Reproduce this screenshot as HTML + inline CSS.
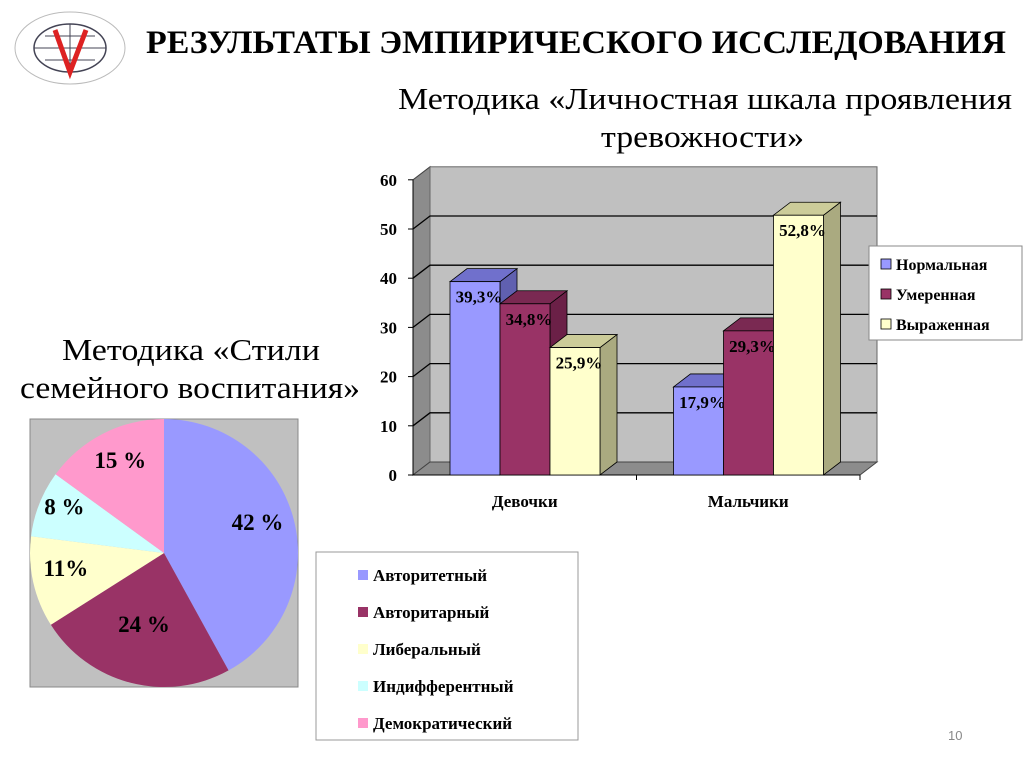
<!DOCTYPE html>
<html><head><meta charset="utf-8">
<style>
body{margin:0;width:1024px;height:767px;background:#fff;overflow:hidden;font-family:"Liberation Serif",serif;}
svg{position:absolute;left:0;top:0;font-family:"Liberation Serif",serif}
text{font-family:"Liberation Serif",serif}
</style></head>
<body>
<svg id="s" width="1024" height="767" font-family="Liberation Serif, serif">
<g>
<ellipse cx="70" cy="48" rx="55" ry="36" fill="none" stroke="#bbb" stroke-width="1"/>
<ellipse cx="70" cy="48" rx="36" ry="24" fill="none" stroke="#445" stroke-width="1.5"/>
<path d="M34 48 H106 M70 24 V72 M45 36 H95 M45 60 H95" stroke="#445" stroke-width="1"/>
<path d="M55 30 L70 72 L86 30" fill="none" stroke="#d22" stroke-width="5"/>
</g>
<text x="146" y="53" font-size="33" font-weight="bold" textLength="860" lengthAdjust="spacingAndGlyphs">РЕЗУЛЬТАТЫ ЭМПИРИЧЕСКОГО ИССЛЕДОВАНИЯ</text>
<text x="398" y="109" font-size="31" textLength="614" lengthAdjust="spacingAndGlyphs">Методика «Личностная шкала проявления</text>
<text x="601" y="147" font-size="31" textLength="203" lengthAdjust="spacingAndGlyphs">тревожности»</text>
<text x="62" y="360" font-size="31" textLength="258" lengthAdjust="spacingAndGlyphs">Методика «Стили</text>
<text x="20" y="398" font-size="31" textLength="340" lengthAdjust="spacingAndGlyphs">семейного воспитания»</text>
<g id="bar"></g>
<g id="pie"></g>
<text x="948" y="740" font-size="13" fill="#888" style="font-family:'Liberation Sans',sans-serif">10</text>
</svg>
<script>
const categories=["Девочки","Мальчики"];
const seriesNames=["Нормальная","Умеренная","Выраженная"];
const normal=[39.3,17.9];
const moderate=[34.8,29.3];
const severe=[25.9,52.8];
const valueLabels=[["39,3%","17,9%"],["34,8%","29,3%"],["25,9%","52,8%"]];
const yTicks=[0,10,20,30,40,50,60];
const pieNames=["Авторитетный","Авторитарный","Либеральный","Индифферентный","Демократический"];
const pieValues=[42,24,11,8,15];
const pieLabels=["42 %","24 %","11%","8 %","15 %"];

const NS="http://www.w3.org/2000/svg";
function mk(p,t,a){const e=document.createElementNS(NS,t);for(const k in a)e.setAttribute(k,a[k]);p.appendChild(e);return e;}
const bar=document.getElementById('bar');
const X0=413,Y0=475,PX=4.92,DX=17,DY=13,XR=860;
const y=v=>Y0-v*PX;
let w=mk(bar,'polygon',{points:`${X0},${y(60)} ${X0+DX},${y(60)-DY} ${X0+DX},${Y0-DY} ${X0},${Y0}`,fill:'#8c8c8c',stroke:'#444'});

w=mk(bar,'rect',{x:X0+DX,y:y(60)-DY,width:XR-X0,height:60*PX,fill:'#c0c0c0',stroke:'#666'});

w=mk(bar,'polygon',{points:`${X0},${Y0} ${X0+DX},${Y0-DY} ${XR+DX},${Y0-DY} ${XR},${Y0}`,fill:'#8c8c8c',stroke:'#444'});

yTicks.forEach(t=>{
 if(t>0&&t<60){const g=mk(bar,'polyline',{points:`${X0},${y(t)} ${X0+DX},${y(t)-DY} ${XR+DX},${y(t)-DY}`,fill:'none',stroke:'#000','stroke-width':1.3});
 }
 mk(bar,'line',{x1:X0-5,y1:y(t),x2:X0,y2:y(t),stroke:'#000'});
 const l=mk(bar,'text',{x:X0-16,y:y(t)+6,'font-size':17,'font-weight':'bold','text-anchor':'end'});l.textContent=t;
 
});
mk(bar,'line',{x1:X0,y1:y(60),x2:X0,y2:Y0,stroke:'#000'});
mk(bar,'line',{x1:X0,y1:Y0,x2:XR,y2:Y0,stroke:'#000'});
const series=[normal,moderate,severe];
const fronts=['#9999ff','#993366','#ffffcc'],tops=['#7070cc','#7a2952','#cccc99'],sides=['#6060b0','#6b2047','#aaaa80'];
const groupW=(XR-X0)/categories.length,bw=50;
categories.forEach((c,ci)=>{
 const gx=X0+ci*groupW+37;
 const cl=mk(bar,'text',{x:X0+ci*groupW+groupW/2,y:507,'font-size':17,'font-weight':'bold','text-anchor':'middle'});cl.textContent=c;
 
 mk(bar,'line',{x1:X0+(ci+1)*groupW,y1:Y0,x2:X0+(ci+1)*groupW,y2:Y0+5,stroke:'#000'});
 series.forEach((s,si)=>{
  const x=gx+si*bw,top=y(s[ci]);
  const g=mk(bar,'g',{});
  mk(g,'polygon',{points:`${x+bw},${top} ${x+bw+DX},${top-DY} ${x+bw+DX},${Y0-DY} ${x+bw},${Y0}`,fill:sides[si],stroke:'#000','stroke-width':.8});
  mk(g,'polygon',{points:`${x},${top} ${x+DX},${top-DY} ${x+bw+DX},${top-DY} ${x+bw},${top}`,fill:tops[si],stroke:'#000','stroke-width':.8});
  mk(g,'rect',{x:x,y:top,width:bw,height:Y0-top,fill:fronts[si],stroke:'#000','stroke-width':.8});
  const t=mk(bar,'text',{x:x+bw/2+4,y:top+21,'font-size':17,'font-weight':'bold','text-anchor':'middle'});t.textContent=valueLabels[si][ci];
  
 });
});
const lg=mk(bar,'g',{});
mk(lg,'rect',{x:869,y:246,width:153,height:94,fill:'#fff',stroke:'#888'});
seriesNames.forEach((n,i)=>{
 const yy=268+i*30;
 mk(lg,'rect',{x:881,y:yy-9,width:10,height:10,fill:fronts[i],stroke:'#000','stroke-width':.8});
 const t=mk(lg,'text',{x:896,y:yy+2,'font-size':16,'font-weight':'bold'});t.textContent=n;
 
});
const pie=document.getElementById('pie');
const pb=mk(pie,'rect',{x:30,y:419,width:268,height:268,fill:'#c0c0c0',stroke:'#888'});

const cx=164,cy=553,R=134,pcol=['#9999ff','#993366','#ffffcc','#ccffff','#ff99cc'];
const total=pieValues.reduce((a,b)=>a+b,0);
let a0=-Math.PI/2;
const rf=[0.72,0.6,0.75,0.8,0.72];
pieValues.forEach((v,i)=>{
 const a1=a0+v/total*2*Math.PI;
 const large=(a1-a0)>Math.PI?1:0;
 const p=mk(pie,'path',{d:`M${cx},${cy} L${cx+R*Math.cos(a0)},${cy+R*Math.sin(a0)} A${R},${R} 0 ${large} 1 ${cx+R*Math.cos(a1)},${cy+R*Math.sin(a1)} Z`,fill:pcol[i]});
 
 const am=(a0+a1)/2,r=R*rf[i];
 const t=mk(pie,'text',{x:cx+r*Math.cos(am),y:cy+r*Math.sin(am)+1,'font-size':23,'font-weight':'bold','text-anchor':'middle'});t.textContent=pieLabels[i];
 
 a0=a1;
});
const pl=mk(pie,'g',{});
mk(pl,'rect',{x:316,y:552,width:262,height:188,fill:'#fff',stroke:'#999'});
pieNames.forEach((n,i)=>{
 const yy=580+i*37;
 mk(pl,'rect',{x:358,y:yy-10,width:10,height:10,fill:pcol[i]});
 const t=mk(pl,'text',{x:373,y:yy+1,'font-size':17,'font-weight':'bold'});t.textContent=n;
 
});
</script>
</body></html>
